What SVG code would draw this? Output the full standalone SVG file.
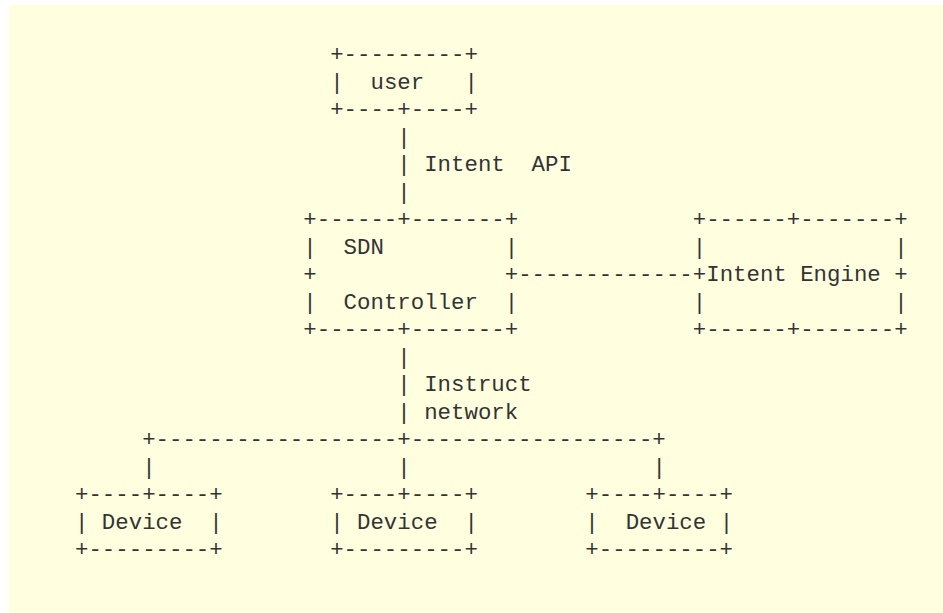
<svg xmlns="http://www.w3.org/2000/svg" width="943" height="613" viewBox="0 0 943 613">
<style>
text{font-family:"Liberation Mono","DejaVu Sans Mono",monospace;font-size:22.38px;fill:#333333}
</style>
<rect x="0" y="0" width="943" height="613" fill="#ffffff"/>
<rect x="9" y="5" width="934" height="608" fill="#ffffe0"/>
<g id="user">
<text x="330.17" y="61">+---------+</text>
<text x="330.17" y="88.5">|</text>
<text x="370.46" y="88.5">user</text>
<text x="464.47" y="88.5">|</text>
<text x="330.17" y="116">+----+----+</text>
</g>
<g id="sdn-controller">
<text x="303.31" y="226">+------+-------+</text>
<text x="303.31" y="253.5">|</text>
<text x="343.6" y="253.5">SDN</text>
<text x="504.76" y="253.5">|</text>
<text x="303.31" y="281">+</text>
<text x="504.76" y="281">+</text>
<text x="303.31" y="308.5">|</text>
<text x="343.6" y="308.5">Controller</text>
<text x="504.76" y="308.5">|</text>
<text x="303.31" y="336">+------+-------+</text>
</g>
<g id="intent-engine">
<text x="692.78" y="226">+------+-------+</text>
<text x="692.78" y="253.5">|</text>
<text x="894.23" y="253.5">|</text>
<text x="692.78" y="281">+</text>
<text x="706.21" y="281">Intent Engine</text>
<text x="894.23" y="281">+</text>
<text x="692.78" y="308.5">|</text>
<text x="894.23" y="308.5">|</text>
<text x="692.78" y="336">+------+-------+</text>
</g>
<g id="device-1">
<text x="75" y="501">+----+----+</text>
<text x="75" y="528.5">|</text>
<text x="101.86" y="528.5">Device</text>
<text x="209.3" y="528.5">|</text>
<text x="75" y="556">+---------+</text>
</g>
<g id="device-2">
<text x="330.17" y="501">+----+----+</text>
<text x="330.17" y="528.5">|</text>
<text x="357.03" y="528.5">Device</text>
<text x="464.47" y="528.5">|</text>
<text x="330.17" y="556">+---------+</text>
</g>
<g id="device-3">
<text x="585.34" y="501">+----+----+</text>
<text x="585.34" y="528.5">|</text>
<text x="625.63" y="528.5">Device</text>
<text x="719.64" y="528.5">|</text>
<text x="585.34" y="556">+---------+</text>
</g>
<g id="connectors">
<text x="397.32" y="143.5">|</text>
<text x="397.32" y="171">|</text>
<text x="424.18" y="171">Intent</text>
<text x="531.62" y="171">API</text>
<text x="397.32" y="198.5">|</text>
<text x="518.19" y="281">-------------</text>
<text x="397.32" y="363.5">|</text>
<text x="397.32" y="391">|</text>
<text x="424.18" y="391">Instruct</text>
<text x="397.32" y="418.5">|</text>
<text x="424.18" y="418.5">network</text>
<text x="142.15" y="446">+------------------+------------------+</text>
<text x="142.15" y="473.5">|</text>
<text x="397.32" y="473.5">|</text>
<text x="652.49" y="473.5">|</text>
</g>
</svg>
